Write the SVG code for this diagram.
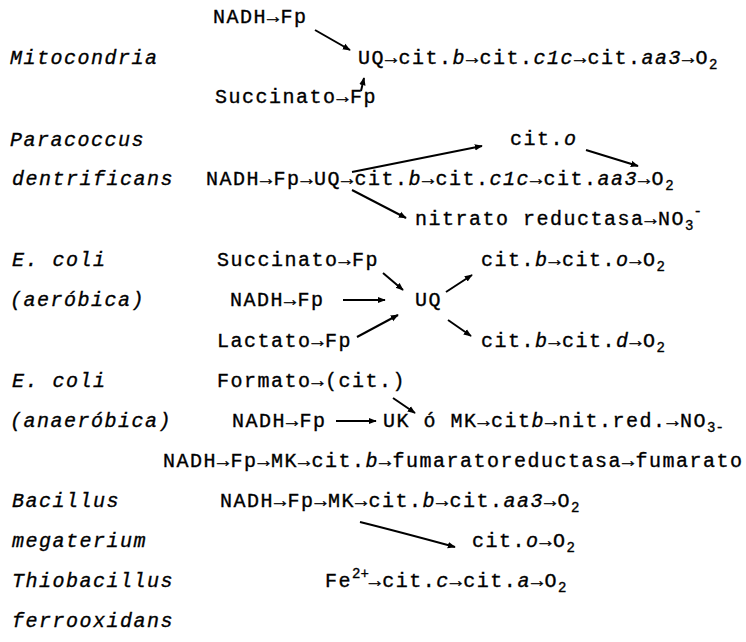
<svg xmlns="http://www.w3.org/2000/svg" width="746" height="642" viewBox="0 0 746 642">
<style>
text{font-family:"Liberation Mono","Courier New",monospace;font-size:20px;letter-spacing:1.5px;fill:#000;stroke:#000;stroke-width:0.35px}
.i{font-style:italic}
.s{font-size:14px;letter-spacing:0}
.c{stroke:#000;stroke-width:2;fill:none;marker-end:url(#ah)}
</style>
<defs>
<marker id="ah" viewBox="0 0 10 10" refX="9" refY="5" markerWidth="4" markerHeight="4" orient="auto" markerUnits="strokeWidth"><path d="M0,1 L10,5 L0,9 z" fill="#000"/></marker>
</defs>
<rect width="746" height="642" fill="#fff"/>
<g id="mitocondria">
<text class="i" x="10" y="64">Mitocondria</text>
<text x="213" y="23">NADH→Fp</text>
<text x="358" y="64">UQ→cit.<tspan class="i">b</tspan>→cit.<tspan class="i">c1c</tspan>→cit.<tspan class="i">aa3</tspan>→O<tspan class="s" dy="5">2</tspan></text>
<text x="215" y="103">Succinato→Fp</text>
</g>
<g id="paracoccus">
<text class="i" x="10" y="146">Paracoccus</text>
<text class="i" x="12" y="185">dentrificans</text>
<text x="510" y="145">cit.<tspan class="i">o</tspan></text>
<text x="206" y="185">NADH→Fp→UQ→cit.<tspan class="i">b</tspan>→cit.<tspan class="i">c1c</tspan>→cit.<tspan class="i">aa3</tspan>→O<tspan class="s" dy="5">2</tspan></text>
<text x="415" y="225">nitrato reductasa→NO<tspan class="s" dy="5">3</tspan><tspan class="s" dy="-14">-</tspan></text>
</g>
<g id="ecoli-aerobica">
<text class="i" x="12" y="266">E. coli</text>
<text class="i" x="10" y="306">(aeróbica)</text>
<text x="217" y="266">Succinato→Fp</text>
<text x="230" y="306">NADH→Fp</text>
<text x="415" y="306">UQ</text>
<text x="217" y="347">Lactato→Fp</text>
<text x="481" y="266">cit.<tspan class="i">b</tspan>→cit.<tspan class="i">o</tspan>→O<tspan class="s" dy="5">2</tspan></text>
<text x="481" y="347">cit.<tspan class="i">b</tspan>→cit.<tspan class="i">d</tspan>→O<tspan class="s" dy="5">2</tspan></text>
</g>
<g id="ecoli-anaerobica">
<text class="i" x="12" y="387">E. coli</text>
<text class="i" x="10" y="427">(anaeróbica)</text>
<text x="217" y="387">Formato→(cit.)</text>
<text x="232" y="427">NADH→Fp</text>
<text x="383" y="427">UK ó MK→cit<tspan class="i">b</tspan>→nit.red.→NO<tspan class="s" dy="5">3-</tspan></text>
<text x="163" y="467">NADH→Fp→MK→cit.<tspan class="i">b</tspan>→fumaratoreductasa→fumarato</text>
</g>
<g id="bacillus">
<text class="i" x="12" y="507">Bacillus</text>
<text class="i" x="12" y="547">megaterium</text>
<text x="220" y="507">NADH→Fp→MK→cit.<tspan class="i">b</tspan>→cit.<tspan class="i">aa3</tspan>→O<tspan class="s" dy="5">2</tspan></text>
<text x="472" y="547">cit.<tspan class="i">o</tspan>→O<tspan class="s" dy="5">2</tspan></text>
</g>
<g id="thiobacillus">
<text class="i" x="12" y="587">Thiobacillus</text>
<text class="i" x="12" y="627">ferrooxidans</text>
<text x="325" y="587">Fe<tspan class="s" dy="-9">2+</tspan><tspan dy="9">→cit.</tspan><tspan class="i">c</tspan>→cit.<tspan class="i">a</tspan>→O<tspan class="s" dy="5">2</tspan></text>
</g>
<g id="connectors">
<path class="c" d="M315,30 L350,50"/>
<path class="c" d="M361,91 L364,78"/>
<path class="c" d="M352,172 L482,146"/>
<path class="c" d="M586,150 L638,166"/>
<path class="c" d="M352,190 L406,218"/>
<path class="c" d="M383,273 L403,290"/>
<path class="c" d="M343,300 L385,300"/>
<path class="c" d="M357,337 L398,315"/>
<path class="c" d="M446,292 L472,275"/>
<path class="c" d="M448,320 L471,336"/>
<path class="c" d="M336,421 L376,421"/>
<path class="c" d="M393,398 L415,413"/>
<path class="c" d="M360,522 Q400,532 455,547"/>
</g>
</svg>
